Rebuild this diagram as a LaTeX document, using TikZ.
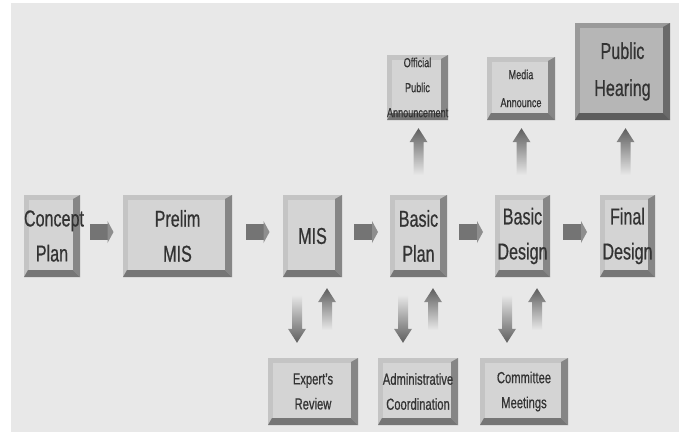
\documentclass[tikz,border=0pt]{standalone}
\usepackage{fontspec}
\setmainfont[FakeStretch=0.70,FakeBold=0.6]{Liberation Sans}
\usetikzlibrary{calc,fadings}
\definecolor{bg}{HTML}{E8E8E8}
\definecolor{faceM}{HTML}{C4C4C4}
\definecolor{edgeM}{HTML}{868686}
\definecolor{faceH}{HTML}{9A9A9A}
\definecolor{edgeH}{HTML}{6A6A6A}
\definecolor{txt}{HTML}{333333}
\definecolor{arrc}{HTML}{5E5E5E}
\definecolor{harrc}{HTML}{747474}
\definecolor{harrh}{HTML}{8E8E8E}
\tikzfading[name=fadeDown, top color=transparent!0, bottom color=transparent!100]
\tikzfading[name=fadeUp, top color=transparent!100, bottom color=transparent!0]
\tikzset{
  bevbox/.style 2 args={draw=none, fill=#1, inner sep=0pt, text=txt, align=center,
    path picture={
      \path (path picture bounding box.south west) coordinate (pSW)
            (path picture bounding box.north east) coordinate (pNE)
            (path picture bounding box.south east) coordinate (pSE);
      \fill[white,opacity=0.28] ($(pSW)+(5pt,7pt)$) rectangle ($(pNE)+(-7pt,-5pt)$);
      \fill[#2] (pNE) -- (pSE) -- ($(pSE)+(-7pt,7pt)$) -- ($(pNE)+(-7pt,-4pt)$) -- cycle;
      \fill[#2!88!black] (pSW) -- (pSE) -- ($(pSE)+(-7pt,7pt)$) -- ($(pSW)+(4pt,7pt)$) -- cycle;
    }},
  mainbox/.style={bevbox={faceM}{edgeM}, minimum height=82, font=\fontsize{23}{35}\selectfont},
  topbox/.style={bevbox={faceM}{edgeM}},
  hearbox/.style={bevbox={faceH}{edgeH}, font=\fontsize{23}{37}\selectfont},
  lowbox/.style={bevbox={faceM}{edgeM}, minimum height=67, font=\fontsize{16}{25}\selectfont},
}
\newcommand\arrUp[2]{\fill[arrc, path fading=fadeDown] let \p1=#1, \p2=#2 in
  (\x1,\y1) -- ++(9pt,-14pt) -- ++(-4pt,0pt) -- (\x1+5pt,\y2) -- (\x1-5pt,\y2)
  -- (\x1-5pt,\y1-14pt) -- ++(-4pt,0pt) -- cycle;}
\newcommand\arrDown[2]{\fill[arrc, path fading=fadeUp] let \p1=#1, \p2=#2 in
  (\x1,\y1) -- ++(9pt,14pt) -- ++(-4pt,0pt) -- (\x1+5pt,\y2) -- (\x1-5pt,\y2)
  -- (\x1-5pt,\y1+14pt) -- ++(-4pt,0pt) -- cycle;}
\newcommand\arrRight[2]{%
  \coordinate (m#1) at ($(#1.east)!0.5!(#2.west)$);
  \fill[harrc] ($(m#1)+(-12pt,-4pt)$) rectangle ++(18pt,16pt);
  \fill[harrh] ($(m#1)+(6pt,15pt)$) -- ++(6pt,-11pt) -- ++(-6pt,-11pt) -- cycle;}
\begin{document}
\begin{tikzpicture}[x=1pt,y=-1pt]
\useasboundingbox (0,0) rectangle (679,432);
\fill[white] (0,0) rectangle (679,432);
\fill[bg] (11,3) rectangle (679,432);

% main row
\node[mainbox, text width=56pt] (cp) at (52,236) {Concept\\Plan};
\node[mainbox, text width=109pt] (pm) at (177.5,236) {Prelim\\MIS};
\node[mainbox, text width=59pt] (mis) at (312.5,236) {MIS};
\node[mainbox, text width=57pt] (bp) at (418.5,236) {Basic\\Plan};
\node[mainbox, text width=55pt] (bd) at (522.5,236) {Basic\\Design};
\node[mainbox, text width=55pt] (fd) at (627.5,236) {Final\\Design};

% top row
\node[topbox, text width=61pt, minimum height=65, font=\fontsize{13}{25}\selectfont] (op) at (417.5,87.5) {Official\\Public\\Announcement};
\node[topbox, text width=68pt, minimum height=63, font=\fontsize{13}{28}\selectfont] (ma) at (521,88.5) {Media\\Announce};
\node[hearbox, text width=95pt, minimum height=97] (ph) at (622.5,71.5) {Public\\Hearing};

% bottom row
\node[lowbox, text width=90pt] (er) at (313,391.5) {Expert's\\Review};
\node[lowbox, text width=80pt] (ac) at (418,391.5) {Administrative\\Coordination};
\node[lowbox, text width=88pt] (cm) at (524,391.5) {Committee\\Meetings};

% horizontal arrows
\arrRight{cp}{pm}
\arrRight{pm}{mis}
\arrRight{mis}{bp}
\arrRight{bp}{bd}
\arrRight{bd}{fd}

% upward arrows to top row
\arrUp{($(bp.north|-op.south)+(0pt,-8pt)$)}{($(bp.north)+(0pt,20pt)$)}
\arrUp{($(bd.north|-ma.south)+(-1pt,-8pt)$)}{($(bd.north)+(-1pt,20pt)$)}
\arrUp{($(fd.north|-ph.south)+(-2pt,-8pt)$)}{($(fd.north)+(-2pt,20pt)$)}

% lower exchanges
\arrDown{($(mis.south|-er.north)+(-15.5pt,15pt)$)}{($(mis.south)+(-15.5pt,-18pt)$)}
\arrUp{($(mis.south)+(14.5pt,-11pt)$)}{($(mis.south|-er.north)+(14.5pt,28pt)$)}
\arrDown{($(bp.south|-ac.north)+(-15.5pt,15pt)$)}{($(bp.south)+(-15.5pt,-18pt)$)}
\arrUp{($(bp.south)+(14.5pt,-11pt)$)}{($(bp.south|-ac.north)+(14.5pt,28pt)$)}
\arrDown{($(bd.south|-cm.north)+(-15.5pt,15pt)$)}{($(bd.south)+(-15.5pt,-18pt)$)}
\arrUp{($(bd.south)+(14.5pt,-11pt)$)}{($(bd.south|-cm.north)+(14.5pt,28pt)$)}
\end{tikzpicture}
\end{document}
